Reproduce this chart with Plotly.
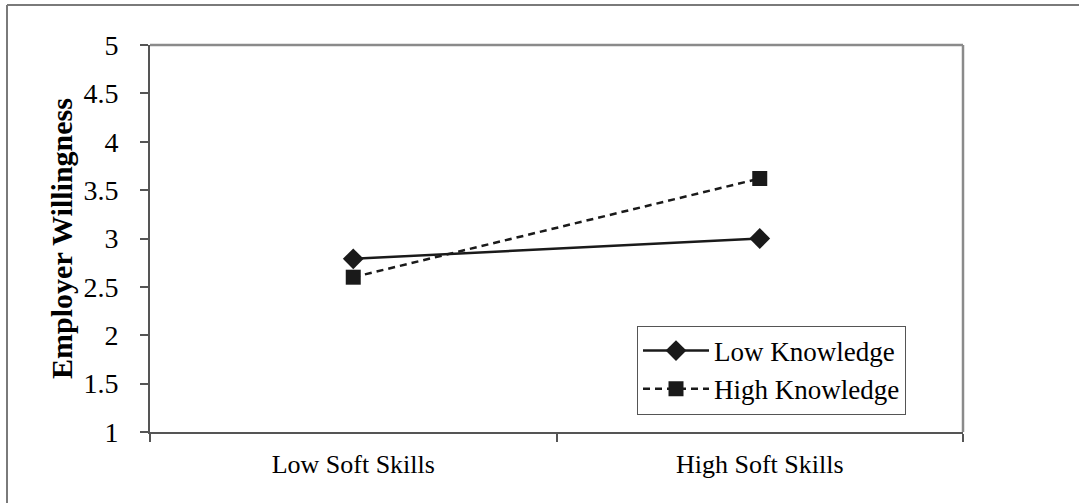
import plotly.graph_objects as go

categories = ["Low Soft Skills", "High Soft Skills"]
low_knowledge = [2.79, 3.0]
high_knowledge = [2.60, 3.62]
y_ticks = [1, 1.5, 2, 2.5, 3, 3.5, 4, 4.5, 5]
y_tick_text = ["1", "1.5", "2", "2.5", "3", "3.5", "4", "4.5", "5"]

W, H = 1079, 503
L, R, T, B = 150, 963, 45, 432

FAM = "Liberation Serif, Times New Roman, serif"

fig = go.Figure()
fig.add_trace(go.Scatter(
    x=categories, y=low_knowledge, name="Low Knowledge", mode="lines+markers",
    line=dict(color="#1a1a1a", width=2.5, dash="solid"),
    marker=dict(symbol="diamond", size=16, color="#1a1a1a"),
))
fig.add_trace(go.Scatter(
    x=categories, y=high_knowledge, name="High Knowledge", mode="lines+markers",
    line=dict(color="#1a1a1a", width=2.5, dash="7px,5px"),
    marker=dict(symbol="square", size=15, color="#1a1a1a"),
))

fig.update_layout(
    width=W, height=H,
    margin=dict(l=L, r=W - R, t=T, b=H - B),
    paper_bgcolor="white", plot_bgcolor="white",
    font=dict(family=FAM, size=26, color="#000"),
    showlegend=True,
    legend=dict(
        x=(637 - L) / (R - L), y=(B - 370) / (B - T),
        xanchor="left", yanchor="middle",
        bgcolor="white", bordercolor="#555", borderwidth=1,
        font=dict(family=FAM, size=27, color="#000"),
        tracegroupgap=0, itemwidth=66,
    ),
    xaxis=dict(
        type="category", range=[-0.5, 1.5], tickson="boundaries",
        ticks="outside", ticklen=8, tickcolor="#555", tickwidth=1.5,
        showline=True, linecolor="#555", linewidth=2,
        showgrid=False, zeroline=False,
        tickfont=dict(family=FAM, size=26, color="#000"),
        ticklabelstandoff=8,
    ),
    yaxis=dict(
        range=[1, 5], tickvals=y_ticks, ticktext=y_tick_text,
        ticks="outside", ticklen=8, tickcolor="#555", tickwidth=1.5,
        showline=True, linecolor="#555", linewidth=2,
        showgrid=False, zeroline=False,
        tickfont=dict(family=FAM, size=28, color="#000"),
        ticklabelstandoff=16,
        title=dict(text="<b>Employer Willingness</b>", standoff=2,
                   font=dict(family=FAM, size=30, color="#000")),
    ),
)

# plot-area frame (top and right in grey)
fig.add_shape(type="line", xref="paper", yref="paper", x0=0, x1=1, y0=1, y1=1,
              line=dict(color="#8a8a8a", width=2.5))
fig.add_shape(type="line", xref="paper", yref="paper", x0=1, x1=1, y0=0, y1=1,
              line=dict(color="#8a8a8a", width=2.5))

# outer border (left and top)
def px_x(p):
    return (p - L) / (R - L)

def px_y(p):
    return (B - p) / (B - T)

fig.add_shape(type="line", xref="paper", yref="paper",
              x0=px_x(7), x1=px_x(7), y0=px_y(5), y1=px_y(503),
              line=dict(color="#7a7a7a", width=2))
fig.add_shape(type="line", xref="paper", yref="paper",
              x0=px_x(7), x1=px_x(1079), y0=px_y(5), y1=px_y(5),
              line=dict(color="#7a7a7a", width=2))

fig.write_html("out.html", config={"displayModeBar": False},
               post_script="document.body.style.margin='0';")
